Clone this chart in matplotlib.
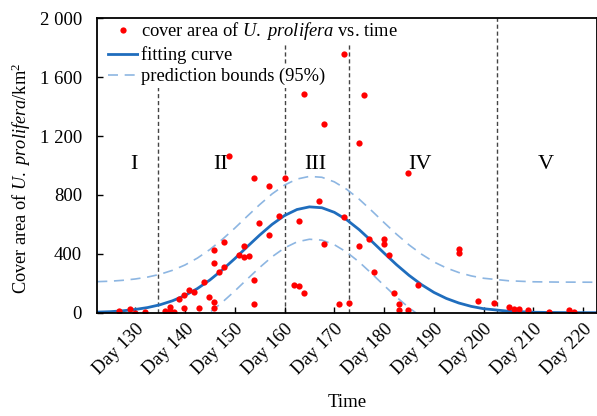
import matplotlib.pyplot as plt
import matplotlib.transforms as mtransforms

plt.rcParams['font.family'] = ['Liberation Serif', 'DejaVu Serif']
plt.rcParams['mathtext.fontset'] = 'custom'
plt.rcParams['mathtext.rm'] = 'Liberation Serif'
plt.rcParams['mathtext.it'] = 'Liberation Serif:italic'

# observed cover area (day of year, km2)
obs_day = [126.8, 128.9, 129.9, 131.9, 135.9, 136.9, 136.9, 137.9, 138.9, 139.9,
           139.9, 140.9, 141.9, 142.9, 143.9, 144.9, 145.9, 145.9, 145.9, 145.9,
           146.9, 147.9, 147.9, 148.9, 150.9, 151.9, 151.9, 152.9, 153.9, 153.9,
           153.9, 154.9, 156.9, 156.9, 158.9, 160.0, 161.9, 162.9, 162.9, 163.9,
           163.9, 166.9, 167.9, 167.9, 171.0, 171.9, 171.9, 173.0, 174.9, 174.9,
           175.9, 176.9, 177.9, 179.9, 179.9, 180.9, 181.9, 182.9, 182.9, 184.9,
           184.9, 186.8, 195.0, 195.0, 198.9, 202.0, 205.0, 206.0, 207.0, 209.0,
           213.1, 217.1, 218.1]
obs_area = [14, 25, 0, 3, 14, 37, 10, 3, 93, 30,
            118, 152, 139, 30, 206, 105, 71, 30, 338, 426,
            276, 308, 480, 1064, 390, 453, 378, 385, 915, 222,
            57, 607, 861, 528, 657, 913, 188, 181, 623, 132,
            1488, 757, 1280, 467, 61, 1757, 650, 66, 1155, 455,
            1479, 500, 279, 500, 469, 391, 132, 57, 20, 20,
            949, 188, 434, 404, 78, 68, 37, 25, 25, 17,
            2, 20, 6]

# fitting curve and 95% prediction bounds
fit_day = [122.4, 125, 127.5, 130, 132.5, 135, 137.5, 140, 142.5, 145,
           147.5, 150, 152.5, 155, 157.5, 160, 162.5, 165, 167.5, 170,
           172.5, 175, 177.5, 180, 182.5, 185, 187.5, 190, 192.5, 195,
           197.5, 200, 205, 210, 215, 222.7]
fit_area = [4, 7, 13, 22, 35, 54, 81, 117, 164, 222,
            291, 367, 448, 527, 600, 660, 701, 719, 713, 682,
            631, 564, 486, 405, 326, 254, 191, 138, 97, 66,
            43, 27, 10, 3, 1, 0]
upper_area = [211, 214, 220, 229, 242, 261, 288, 324, 371, 429,
              498, 574, 655, 734, 807, 867, 908, 926, 920, 889,
              838, 771, 693, 612, 533, 461, 398, 345, 304, 273,
              250, 234, 217, 210, 208, 207]
lower_day = [142.5, 145, 147.5, 150, 152.5, 155, 157.5, 160, 162.5, 165,
             167.5, 170, 172.5, 175, 177.5, 180, 182.5, 185, 187.5]
lower_area = [-56, 2, 71, 147, 228, 307, 380, 440, 481, 499,
              493, 462, 411, 344, 266, 185, 106, 34, -29]

stage_day = [134.55, 160, 173, 202.7]
stage_names = ['I', 'II', 'III', 'IV', 'V']
stage_label_day = [129.8, 147.1, 166.2, 187.3, 212.5]

xticks = [130, 140, 150, 160, 170, 180, 190, 200, 210, 220]
yticks = [0, 400, 800, 1200, 1600, 2000]
ytick_labels = ['0', '400', '800', '1 200', '1 600', '2 000']

fig = plt.figure(figsize=(5.97, 4.16), dpi=100)
ax = fig.add_axes([0.163, 0.2483, 0.8365, 0.7077])

fs = 13.5

for d in stage_day:
    ax.axvline(d, color='#444444', lw=1, ls=(0, (3, 2)), zorder=1)

ax.plot(obs_day, obs_area, 'o', color='#ff0000', ms=4.5, mec='none',
        label='cover area of $U.\\ prolifera$ vs. time', zorder=4)
ax.plot(fit_day, fit_area, color='#1f6dbd', lw=2,
        label='fitting curve', zorder=3)
ax.plot(fit_day, upper_area, color='#8db6e2', lw=1.2, ls=(0, (6, 4)),
        label='prediction bounds (95%)', zorder=2)
ax.plot(lower_day, lower_area, color='#8db6e2', lw=1.2, ls=(0, (6, 4)), zorder=2)

for name, d in zip(stage_names, stage_label_day):
    ax.text(d, 1005, name, ha='center', va='center', fontsize=16)

ax.set_xlim(122.4, 222.7)
ax.set_ylim(0, 2000)
ax.set_xticks(xticks)
ax.set_xticklabels(['Day %d' % t for t in xticks], rotation=45, ha='right',
                   va='top', rotation_mode='anchor', fontsize=fs)
offset = mtransforms.ScaledTranslation(8 / 100, -5 / 100, fig.dpi_scale_trans)
for lab in ax.get_xticklabels():
    lab.set_transform(lab.get_transform() + offset)
ax.set_yticks(yticks)
ax.set_yticklabels(ytick_labels, fontsize=fs)
ax.tick_params(direction='in', length=4, width=1)
ax.tick_params(axis='x', pad=6)
ax.tick_params(axis='y', pad=11)
for s in ax.spines.values():
    s.set_linewidth(1.3)
    s.set_zorder(6)

ax.set_xlabel('Time', fontsize=fs, labelpad=11)
ax.set_ylabel('Cover area of $U.\\ prolifera$/km$^2$', fontsize=13.2)
ax.yaxis.set_label_coords(-0.128, 0.455)

leg = ax.legend(loc='upper left', bbox_to_anchor=(0.018, 1.0), frameon=False,
                fontsize=13.3, handlelength=1.65, handletextpad=0.15,
                labelspacing=0.22, borderpad=0.1, borderaxespad=0, numpoints=1)
leg.set_zorder(5)
for t in leg.get_texts():
    t.set_bbox(dict(facecolor='white', edgecolor='none', pad=2))

fig.savefig('out.png', dpi=100)
